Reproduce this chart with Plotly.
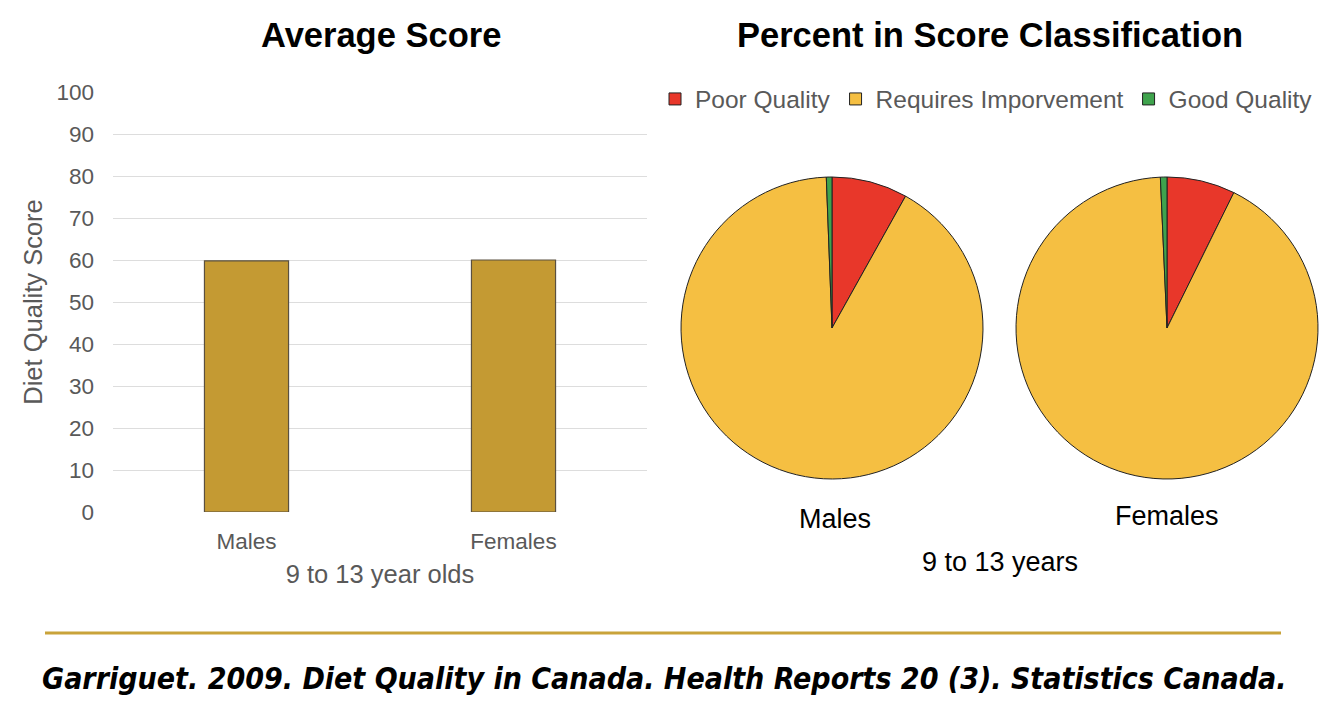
import plotly.graph_objects as go

REF_W, REF_H = 1334, 710
OFF = 8  # page body margin
W, H = REF_W - OFF, REF_H - OFF

groups = ["Males", "Females"]
avg_score = [59.8, 60.0]
classes = ["Poor Quality", "Requires Imporvement", "Good Quality"]
male_pct = [8.1, 91.3, 0.6]
female_pct = [7.3, 92.0, 0.7]
class_colors = ["#E8372A", "#F5BF42", "#3FA34D"]
y_ticks = list(range(0, 101, 10))

def px(x):
    return (x - OFF) / W

def py(y):
    return (REF_H - y) / H

fig = go.Figure()
fig.add_trace(go.Bar(
    x=groups, y=avg_score, width=0.315,
    marker=dict(color="#C49A33", line=dict(color="#5a5040", width=1.2)),
    showlegend=False, xaxis="x", yaxis="y"))

for vals, (x0, x1), show in [(male_pct, (681, 983), True), (female_pct, (1016, 1318), False)]:
    fig.add_trace(go.Pie(
        labels=classes, values=vals, sort=False, direction="clockwise", rotation=0,
        marker=dict(colors=class_colors, line=dict(color="#222222", width=1)),
        textinfo="none", hoverinfo="label+percent", showlegend=show,
        domain=dict(x=[px(x0), px(x1)], y=[py(479), py(177)])))

grey = "#595959"
fig.update_layout(
    width=W, height=H, margin=dict(l=0, r=0, t=0, b=0, autoexpand=False),
    paper_bgcolor="white", plot_bgcolor="white",
    font=dict(family="Liberation Sans, Arial, sans-serif", color=grey),
    xaxis=dict(domain=[px(113), px(647)], anchor="y", showline=False, ticks="",
               ticklabelstandoff=13, automargin=False,
               tickfont=dict(size=22.5, color=grey),
               title=dict(text="9 to 13 year olds", font=dict(size=25.5, color=grey), standoff=12)),
    yaxis=dict(domain=[py(512), py(92)], anchor="x", range=[0, 100], tickvals=y_ticks,
               showgrid=True, gridcolor="#DDDDDD", gridwidth=1, zeroline=False,
               ticks="", ticklabelstandoff=18, automargin=False,
               tickfont=dict(size=22.5, color=grey),
               title=dict(text="Diet Quality Score", font=dict(size=25.5, color=grey), standoff=6)),
    legend=dict(orientation="h", x=px(655), y=py(99), xanchor="left", yanchor="middle",
                font=dict(family="Liberation Sans Narrow, Liberation Sans, sans-serif", size=24.5, color=grey),
                itemwidth=30, tracegroupgap=0, bgcolor="rgba(0,0,0,0)"),
    shapes=[dict(type="line", xref="paper", yref="paper", x0=px(45), x1=px(1281),
                 y0=py(633), y1=py(633), line=dict(color="#C9A33A", width=3))],
)

annots = [
    ("Average Score", 381, 35, 34.5, "black", "bold", "normal", "Liberation Sans, Arial, sans-serif"),
    ("Percent in Score Classification", 990, 35, 34.5, "black", "bold", "normal", "Liberation Sans, Arial, sans-serif"),
    ("Males", 835, 519, 27, "black", "normal", "normal", "Liberation Sans, Arial, sans-serif"),
    ("Females", 1167, 516, 27, "black", "normal", "normal", "Liberation Sans, Arial, sans-serif"),
    ("9 to 13 years", 1000, 562, 27, "black", "normal", "normal", "Liberation Sans, Arial, sans-serif"),
    ("Garriguet. 2009. Diet Quality in Canada. Health Reports 20 (3). Statistics Canada.", 664, 678, 30,
     "black", "bold", "italic", "DejaVu Sans Condensed, DejaVu Sans, sans-serif"),
]
for text, x, y, size, color, weight, style, fam in annots:
    fig.add_annotation(text=text, x=px(x), y=py(y), xref="paper", yref="paper",
                       xanchor="center", yanchor="middle", showarrow=False,
                       font=dict(size=size, color=color, weight=weight, style=style, family=fam))

fig.write_html("out.html")
